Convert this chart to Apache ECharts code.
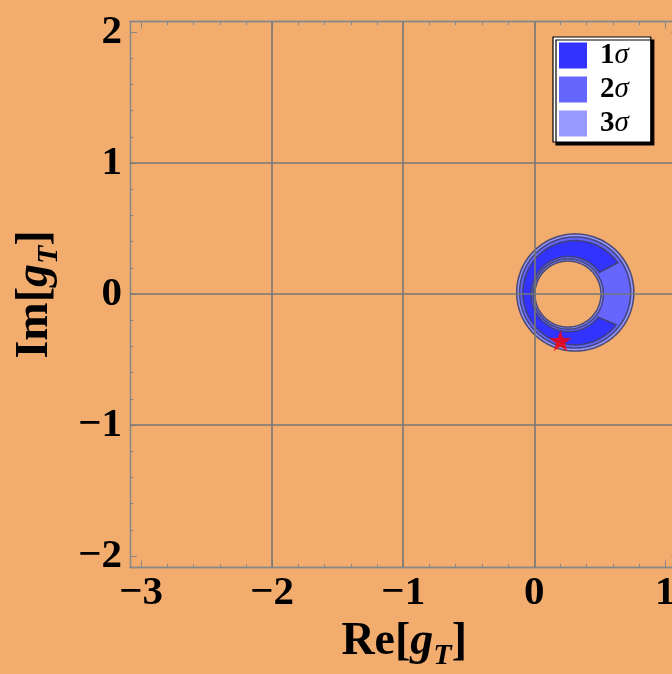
<!DOCTYPE html>
<html>
<head>
<meta charset="utf-8">
<script src="https://cdn.jsdelivr.net/npm/echarts@6/dist/echarts.min.js"></script>
<style>html,body{margin:0;padding:0;background:#f2ad6e;}#c{width:672px;height:674px;}</style>
</head>
<body>
<div id="c"></div>
<script>
// ---- data ----
const xRange = [-3.085, 1.1];
const yRange = [-2.086, 2.079];
const xMajorTicks = [-3, -2, -1, 0, 1];
const xMinorTicks = [-2.8, -2.6, -2.4, -2.2, -1.8, -1.6, -1.4, -1.2, -0.8, -0.6, -0.4, -0.2, 0.2, 0.4, 0.6, 0.8];
const yMajorTicks = [-2, -1, 0, 1, 2];
const yMinorTicks = [-1.8, -1.6, -1.4, -1.2, -0.8, -0.6, -0.4, -0.2, 0.2, 0.4, 0.6, 0.8, 1.2, 1.4, 1.6, 1.8];
const xGridLines = [-2, -1, 0];
const yGridLines = [-1, 0, 1];

// confidence regions (outer boundary circle, inner boundary circle, opening angles in degrees)
const sigmaNames = ['1σ', '2σ', '3σ'];
const outerCx = [0.311, 0.312, 0.313];
const outerCy = [0.010, 0.012, 0.012];
const outerR  = [0.398, 0.424, 0.447];
const innerCx = [0.262, 0.259, 0.257];
const innerCy = [0.000, 0.000, 0.000];
const innerR  = [0.287, 0.268, 0.252];
const gapFrom = [-38, NaN, NaN];
const gapTo   = [35, NaN, NaN];
const sigmaColors = ['#3333ff', '#6666ff', '#9999ff'];

const bestFit = [[0.20, -0.356]];

// ---- chart ----
const FONT = '"Liberation Serif", "Times New Roman", serif';
const minus = v => (v < 0 ? '\u2212' + Math.abs(v) : String(v));
const chart = echarts.init(document.getElementById('c'), null, {renderer: 'canvas'});

function ringItem(params, api) {
  const oc = api.coord([api.value(0), api.value(1)]);
  const ic = api.coord([api.value(3), api.value(4)]);
  const orx = api.size([api.value(2), 0])[0], ory = api.size([0, api.value(2)])[1];
  const irx = api.size([api.value(5), 0])[0], iry = api.size([0, api.value(5)])[1];
  const g1 = api.value(6), g2 = api.value(7);
  const color = api.visual('color');
  const stroke = 'rgba(62,64,112,0.9)';
  const pt = (c, rx, ry, deg) => [c[0] + rx * Math.cos(deg * Math.PI / 180), c[1] - ry * Math.sin(deg * Math.PI / 180)];
  const children = [];
  if (isNaN(g1)) {
    const pts = [];
    for (let a = 0; a <= 360; a += 2) pts.push(pt(oc, orx, ory, a));
    for (let a = 360; a >= 0; a -= 2) pts.push(pt(ic, irx, iry, a));
    children.push({type: 'polygon', shape: {points: pts}, style: {fill: color, stroke: null}});
    const op = [], ip = [];
    for (let a = 0; a < 360; a += 2) { op.push(pt(oc, orx, ory, a)); ip.push(pt(ic, irx, iry, a)); }
    children.push({type: 'polygon', shape: {points: op}, style: {fill: 'none', stroke: stroke, lineWidth: 1.6}});
    children.push({type: 'polygon', shape: {points: ip}, style: {fill: 'none', stroke: stroke, lineWidth: 1.6}});
  } else {
    const pts = [];
    const end = 360 + g1;
    for (let a = g2; a <= end; a += 2) pts.push(pt(oc, orx, ory, a));
    pts.push(pt(oc, orx, ory, end));
    pts.push(pt(ic, irx, iry, end));
    for (let a = end; a >= g2; a -= 2) pts.push(pt(ic, irx, iry, a));
    pts.push(pt(ic, irx, iry, g2));
    children.push({type: 'polygon', shape: {points: pts}, style: {fill: color, stroke: stroke, lineWidth: 1.6}});
  }
  return {type: 'group', children: children};
}

function regionSeries(i) {
  return {
    name: sigmaNames[i],
    type: 'custom',
    xAxisIndex: 0, yAxisIndex: 0,
    renderItem: ringItem,
    itemStyle: {color: sigmaColors[i]},
    encode: {x: [0, 3], y: [1, 4]},
    data: [[outerCx[i], outerCy[i], outerR[i], innerCx[i], innerCy[i], innerR[i], gapFrom[i], gapTo[i]]],
    z: 2,
    silent: true
  };
}

const frameLine = {color: '#888', width: 1.3};
function xAx(pos, major, labels) {
  return {
    type: 'value', position: pos, min: xRange[0], max: xRange[1],
    axisLine: {show: true, onZero: false, lineStyle: frameLine},
    axisTick: {show: true, inside: true, length: major ? 7 : 3.5, customValues: major ? xMajorTicks : xMinorTicks, lineStyle: {color: '#888', width: 1}},
    axisLabel: labels ? {show: true, customValues: xMajorTicks, formatter: minus, margin: 6, color: '#000', fontFamily: FONT, fontWeight: 'bold', fontSize: 41} : {show: false},
    splitLine: {show: false}
  };
}
function yAx(pos, major, labels) {
  return {
    type: 'value', position: pos, min: yRange[0], max: yRange[1],
    axisLine: {show: true, onZero: false, lineStyle: frameLine},
    axisTick: {show: true, inside: true, length: major ? 7 : 3.5, customValues: major ? yMajorTicks : yMinorTicks, lineStyle: {color: '#888', width: 1}},
    axisLabel: labels ? {show: true, customValues: yMajorTicks, formatter: minus, margin: 8, color: '#000', fontFamily: FONT, fontWeight: 'bold', fontSize: 41} : {show: false},
    splitLine: {show: false}
  };
}

const nameRich = {
  r: {fontFamily: FONT, fontWeight: 'bold', fontSize: 46, lineHeight: 46, color: '#000', verticalAlign: 'top'},
  g: {fontFamily: FONT, fontWeight: 'bold', fontStyle: 'italic', fontSize: 46, lineHeight: 46, color: '#000', verticalAlign: 'top'},
  t: {fontFamily: FONT, fontWeight: 'bold', fontStyle: 'italic', fontSize: 30, lineHeight: 30, color: '#000', verticalAlign: 'top', padding: [22, 0, 0, 0]}
};

const xAxes = [xAx('bottom', true, true), xAx('bottom', false, false), xAx('top', true, false), xAx('top', false, false)];
xAxes[0].name = '{r|Re[}{g|g}{t|T}{r|]}';
xAxes[0].nameLocation = 'middle';
xAxes[0].nameGap = 44;
xAxes[0].nameTextStyle = {rich: nameRich};
const yAxes = [yAx('left', true, true), yAx('left', false, false), yAx('right', true, false), yAx('right', false, false)];
yAxes[0].name = '{r|Im[}{g|g}{t|T}{r|]}';
yAxes[0].nameLocation = 'middle';
yAxes[0].nameGap = 72;
yAxes[0].nameTextStyle = {rich: nameRich};

const option = {
  backgroundColor: '#f2ad6e',
  animation: false,
  grid: {left: 130, top: 21.7, width: 548.4, height: 545.6, containLabel: false, outerBoundsMode: 'none'},
  xAxis: xAxes,
  yAxis: yAxes,
  legend: {
    data: sigmaNames,
    orient: 'vertical',
    left: 553, top: 37,
    icon: 'rect',
    itemWidth: 28, itemHeight: 26, itemGap: 5,
    padding: [4, 22, 4, 6],
    backgroundColor: '#ffffff',
    borderColor: '#000', borderWidth: 1.2, borderRadius: 0,
    shadowColor: '#000', shadowBlur: 0, shadowOffsetX: 3, shadowOffsetY: 3,
    selectedMode: false,
    formatter: n => '{a|' + n[0] + '}{b|' + n.slice(1) + '}',
    textStyle: {
      rich: {
        a: {fontFamily: FONT, fontWeight: 'bold', fontSize: 29, color: '#000', padding: [0, 0, 0, 8]},
        b: {fontFamily: FONT, fontStyle: 'italic', fontSize: 29, color: '#000'}
      }
    }
  },
  series: [
    regionSeries(2), regionSeries(1), regionSeries(0),
    {
      type: 'line', data: [], xAxisIndex: 0, yAxisIndex: 0, z: 5, silent: true,
      markLine: {
        silent: true, symbol: 'none', label: {show: false}, animation: false,
        lineStyle: {color: '#777', width: 1.6, type: 'solid'},
        data: xGridLines.map(v => ({xAxis: v})).concat(yGridLines.map(v => ({yAxis: v})))
      }
    },
    {
      type: 'scatter', data: bestFit, xAxisIndex: 0, yAxisIndex: 0, z: 10, silent: true,
      symbol: 'path://M0,-10 L2.35,-3.24 L9.51,-3.09 L3.8,1.24 L5.88,8.09 L0,4 L-5.88,8.09 L-3.8,1.24 L-9.51,-3.09 L-2.35,-3.24 Z',
      symbolSize: [22, 21],
      itemStyle: {color: '#ff0000'}
    }
  ]
};
chart.setOption(option);
</script>
</body>
</html>
